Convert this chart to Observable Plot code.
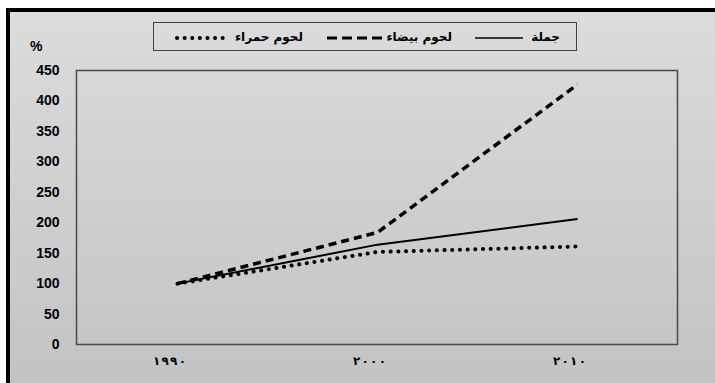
<!DOCTYPE html>
<html>
<head>
<meta charset="utf-8">
<script src="https://cdn.jsdelivr.net/npm/d3@7"></script>
<script src="https://cdn.jsdelivr.net/npm/@observablehq/plot@0.6"></script>
<style>
  html, body { margin: 0; padding: 0; background: #fff; }
  body { width: 715px; height: 383px; position: relative; overflow: hidden; }
  #frame { position: absolute; left: 6px; top: 8px; width: 709px; height: 375px; box-sizing: border-box;
           border-left: 4px solid #000; border-top: 4px solid #000;
           background: linear-gradient(#dcdcdc, #c3c3c3); }
  #chart { position: absolute; left: 0; top: 0; }
  #legend { position: absolute; left: 153px; top: 22px; width: 424px; height: 29px; box-sizing: border-box;
            border: 1px solid #444; }
  .lg { position: absolute; top: 7px; line-height: 1; font: bold 12px "DejaVu Sans", sans-serif; color: #000; white-space: nowrap; }
  .ls { position: absolute; top: 0; }
  #pct { position: absolute; left: 30px; top: 38px; font: bold 14px "Liberation Sans", Arial, sans-serif; }
</style>
</head>
<body>
<div id="frame"></div>
<div id="chart"></div>
<div id="pct">%</div>
<div id="legend"></div>
<script>
const years = ["١٩٩٠", "٢٠٠٠", "٢٠١٠"];
const seriesNames = ["جملة", "لحوم بيضاء", "لحوم حمراء"];
const total = [100, 164, 206];
const whiteMeat = [100, 184, 427];
const redMeat = [100, 152, 161];
const yTicks = [0, 50, 100, 150, 200, 250, 300, 350, 400, 450];

const styles = {
  "جملة": {strokeWidth: 2, dash: null, cap: "butt"},
  "لحوم بيضاء": {strokeWidth: 3.5, dash: "8,5", cap: "butt"},
  "لحوم حمراء": {strokeWidth: 4, dash: "0.1,7.6", cap: "round"}
};

const rows = [];
[total, whiteMeat, redMeat].forEach((vals, si) => {
  vals.forEach((v, i) => rows.push({series: seriesNames[si], year: years[i], value: v}));
});

const lineFor = name => Plot.line(rows.filter(d => d.series === name), {
  x: "year", y: "value", stroke: "#000",
  strokeWidth: styles[name].strokeWidth,
  strokeDasharray: styles[name].dash || undefined,
  strokeLinecap: styles[name].cap,
  strokeLinejoin: "round"
});

// space the Arabic-Indic digits apart, keeping left-to-right order
const spaced = s => s.split("").join("\u200E\u200A\u200E");

const chart = Plot.plot({
  width: 715, height: 383,
  marginLeft: 76, marginRight: 38, marginTop: 70, marginBottom: 39,
  style: {background: "transparent", overflow: "visible"},
  x: {type: "point", domain: years, padding: 0.5, label: null},
  y: {domain: [0, 450], label: null},
  marks: [
    Plot.frame({stroke: "#4a4a4a", strokeWidth: 1.5}),
    Plot.axisY({ticks: yTicks, tickSize: 0, tickPadding: 17, label: null,
      fontSize: 14, fontWeight: "bold", fontFamily: "Liberation Sans, Arial, sans-serif"}),
    Plot.axisX({tickSize: 0, tickPadding: 12, label: null, dx: -8, tickFormat: spaced,
      fontSize: 12, fontWeight: "bold", fontFamily: "DejaVu Sans, sans-serif"}),
    lineFor("لحوم حمراء"),
    lineFor("لحوم بيضاء"),
    lineFor("جملة")
  ]
});
chart.querySelectorAll("text").forEach(t => t.setAttribute("fill", "#000"));
document.getElementById("chart").appendChild(chart);

// legend (positions relative to legend box)
const legend = document.getElementById("legend");
const items = [
  {name: "جملة", textRight: 560, s0: 475, s1: 523, w: 1.5, dash: null, cap: "butt"},
  {name: "لحوم بيضاء", textRight: 452, s0: 327, s1: 387, w: 3, dash: "10,5", cap: "butt"},
  {name: "لحوم حمراء", textRight: 303, s0: 177, s1: 225, w: 4, dash: "0.1,7.5", cap: "round"}
];
const ns = "http://www.w3.org/2000/svg";
items.forEach(it => {
  const t = document.createElement("div");
  t.className = "lg";
  t.dir = "rtl";
  t.textContent = it.name;
  t.style.right = (577 - it.textRight - 1) + "px";
  legend.appendChild(t);
  const svg = document.createElementNS(ns, "svg");
  svg.setAttribute("class", "ls");
  svg.setAttribute("width", it.s1 - it.s0 + 4);
  svg.setAttribute("height", 27);
  svg.style.left = (it.s0 - 153 - 1 - 2) + "px";
  const l = document.createElementNS(ns, "line");
  l.setAttribute("x1", 2); l.setAttribute("x2", it.s1 - it.s0 + 2);
  l.setAttribute("y1", 15); l.setAttribute("y2", 15);
  l.setAttribute("stroke", "#000");
  l.setAttribute("stroke-width", it.w);
  l.setAttribute("stroke-linecap", it.cap);
  if (it.dash) l.setAttribute("stroke-dasharray", it.dash);
  svg.appendChild(l);
  legend.appendChild(svg);
});
</script>
</body>
</html>
